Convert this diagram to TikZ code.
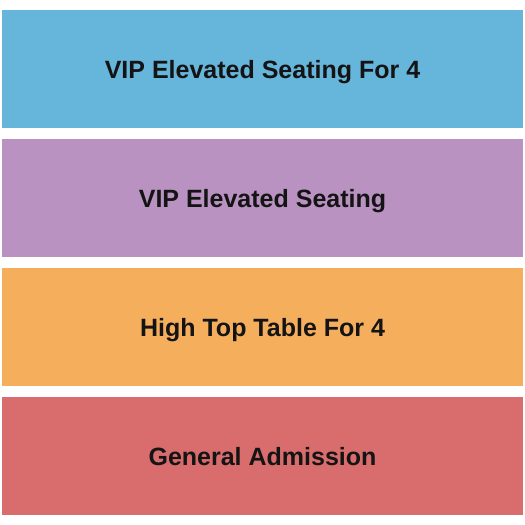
\documentclass[tikz,border=0pt]{standalone}
\usepackage{fontspec}
\setmainfont{Liberation Sans}
\usepackage{tikz}
\usetikzlibrary{positioning}

\definecolor{vipblue}{RGB}{102,181,219}
\definecolor{vippurple}{RGB}{185,146,194}
\definecolor{toporange}{RGB}{244,174,92}
\definecolor{gared}{RGB}{217,108,108}
\definecolor{labelink}{RGB}{20,20,20}

\begin{document}
\begin{tikzpicture}
  [
    x = 1pt, y = 1pt,
    every node/.style = {inner sep = 0pt, outer sep = 0pt},
    seatblock/.style = {rectangle, minimum width = 521pt, minimum height = 118pt,
      text height = 20pt, text depth = 0pt,
      text = labelink, font = \fontsize{25}{30}\selectfont\bfseries},
    node distance = 11pt
  ]
  \useasboundingbox (0,0) rectangle (525,525);
  \node [seatblock, fill = vipblue, anchor = north west] (VipFour) at (2,515) {VIP Elevated Seating For 4};
  \node [seatblock, fill = vippurple, below = of VipFour] (Vip) {VIP Elevated Seating};
  \node [seatblock, fill = toporange, below = of Vip] (HighTop) {High Top Table For 4};
  \node [seatblock, fill = gared, below = of HighTop] (General) {General Admission};
\end{tikzpicture}
\end{document}
